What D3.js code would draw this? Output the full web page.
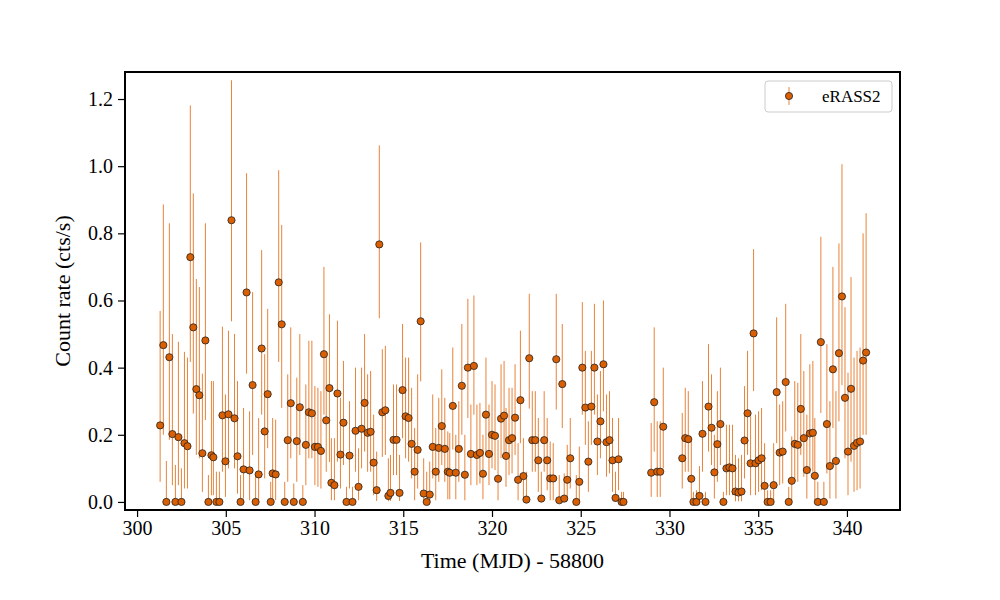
<!DOCTYPE html>
<html><head><meta charset="utf-8">
<script src="https://cdn.jsdelivr.net/npm/d3@7"></script>
<style>body{margin:0;background:#fff}svg{font-family:"Liberation Serif","DejaVu Serif",serif}</style>
</head><body><svg id="c" width="1000" height="600"></svg>
<script>
const time=[301.30,301.48,301.65,301.82,301.99,302.16,302.33,302.50,302.67,302.84,303.00,303.17,303.34,303.51,303.68,303.85,304.02,304.19,304.30,304.47,304.64,304.81,304.98,305.15,305.32,305.49,305.66,305.83,306.00,306.17,306.34,306.51,306.68,306.85,307.02,307.19,307.36,307.53,307.64,307.81,307.98,308.15,308.32,308.49,308.66,308.83,309.00,309.17,309.34,309.51,309.68,309.85,310.02,310.19,310.36,310.53,310.66,310.84,310.95,311.12,311.29,311.46,311.63,311.80,311.97,312.14,312.31,312.48,312.65,312.82,312.99,313.16,313.33,313.50,313.65,313.82,313.99,314.16,314.28,314.45,314.62,314.79,314.96,315.13,315.30,315.47,315.64,315.81,315.98,316.15,316.32,316.49,316.66,316.83,317.00,317.17,317.34,317.51,317.62,317.79,317.96,318.13,318.30,318.47,318.64,318.81,318.98,319.15,319.32,319.49,319.66,319.83,320.00,320.17,320.34,320.51,320.68,320.79,320.96,321.13,321.30,321.47,321.60,321.77,321.94,322.10,322.27,322.44,322.61,322.78,322.94,323.11,323.28,323.45,323.62,323.79,323.96,324.07,324.24,324.41,324.75,324.92,325.09,325.26,325.43,325.60,325.77,325.94,326.11,326.28,326.45,326.62,326.79,326.96,327.13,327.30,327.41,328.97,329.14,329.31,329.48,329.65,330.72,330.89,331.06,331.23,331.35,331.52,331.69,331.86,332.03,332.20,332.37,332.53,332.70,332.87,333.04,333.21,333.38,333.55,333.72,333.89,334.06,334.23,334.40,334.57,334.74,334.85,335.02,335.19,335.36,335.53,335.70,335.87,336.04,336.21,336.38,336.55,336.72,336.89,337.06,337.23,337.40,337.57,337.74,337.91,338.08,338.19,338.36,338.53,338.70,338.87,339.04,339.21,339.38,339.55,339.72,339.89,340.06,340.23,340.40,340.57,340.74,340.91,341.08];
const rate=[0.228,0.467,0,0.431,0.202,0,0.193,0,0.175,0.166,0.729,0.520,0.336,0.318,0.145,0.481,0,0.139,0.133,0,0,0.258,0.121,0.261,0.839,0.249,0.136,0,0.097,0.624,0.094,0.348,0,0.082,0.457,0.210,0.321,0,0.085,0.082,0.654,0.529,0,0.184,0.294,0,0.181,0.282,0,0.170,0.267,0.264,0.164,0.164,0.152,0.440,0.243,0.339,0.057,0.050,0.323,0.141,0.236,0,0.138,0,0.212,0.045,0.218,0.295,0.206,0.209,0.117,0.035,0.767,0.267,0.273,0.018,0.027,0.185,0.185,0.027,0.333,0.255,0.250,0.173,0.090,0.155,0.538,0.025,0,0.022,0.164,0.090,0.161,0.226,0.158,0.090,0.087,0.286,0.087,0.158,0.346,0.081,0.400,0.143,0.405,0.140,0.146,0.084,0.260,0.143,0.200,0.197,0.069,0.248,0.257,0.137,0.184,0.190,0.251,0.066,0.303,0.077,0.007,0.428,0.184,0.184,0.124,0.010,0.184,0.124,0.070,0.070,0.425,0.005,0.351,0.010,0.066,0.130,0,0.060,0.400,0.281,0.120,0.284,0.400,0.180,0.240,0.410,0.178,0.184,0.124,0.012,0.127,0,0,0.087,0.297,0.090,0.090,0.224,0.130,0.190,0.187,0.069,0,0,0.018,0.203,0,0.284,0.221,0.088,0.172,0.232,0,0.100,0.103,0.100,0.031,0.028,0.031,0.183,0.264,0.115,0.502,0.115,0.124,0.130,0.048,0,0,0.050,0.327,0.147,0.150,0.357,0,0.063,0.173,0.170,0.277,0.190,0.095,0.204,0.206,0.078,0,0.476,0,0.232,0.107,0.395,0.122,0.443,0.612,0.310,0.150,0.337,0.167,0.176,0.180,0.421,0.445];
const upper=[0.569,0.886,0.122,0.830,0.500,0.110,0.477,0.100,0.447,0.430,1.181,0.919,0.664,0.640,0.382,0.830,0.080,0.360,0.360,0.090,0.090,0.522,0.320,0.510,1.256,0.500,0.360,0.080,0.280,0.979,0.270,0.625,0.080,0.250,0.750,0.440,0.575,0.060,0.250,0.245,0.988,0.825,0.060,0.380,0.520,0.055,0.370,0.500,0.050,0.350,0.480,0.480,0.345,0.340,0.330,0.700,0.440,0.559,0.190,0.190,0.540,0.310,0.420,0.045,0.300,0.045,0.400,0.160,0.400,0.500,0.380,0.390,0.260,0.150,1.062,0.455,0.465,0.130,0.140,0.350,0.350,0.140,0.530,0.430,0.430,0.340,0.220,0.380,0.773,0.130,0.090,0.120,0.320,0.220,0.310,0.395,0.310,0.210,0.205,0.460,0.200,0.300,0.530,0.200,0.605,0.290,0.615,0.290,0.295,0.200,0.430,0.290,0.360,0.350,0.185,0.410,0.420,0.280,0.340,0.340,0.410,0.175,0.510,0.190,0.090,0.620,0.330,0.330,0.250,0.090,0.330,0.250,0.180,0.175,0.620,0.080,0.530,0.085,0.170,0.250,0.080,0.165,0.595,0.450,0.240,0.450,0.590,0.320,0.390,0.600,0.320,0.330,0.250,0.090,0.250,0.030,0.030,0.235,0.520,0.240,0.240,0.400,0.265,0.340,0.330,0.190,0.030,0.035,0.107,0.360,0.030,0.470,0.380,0.200,0.330,0.400,0.030,0.230,0.230,0.230,0.140,0.130,0.140,0.345,0.450,0.255,0.753,0.260,0.270,0.280,0.175,0.035,0.035,0.175,0.550,0.290,0.300,0.590,0.045,0.195,0.360,0.355,0.500,0.390,0.260,0.410,0.420,0.250,0.060,0.790,0.060,0.470,0.300,0.700,0.330,0.770,1.006,0.580,0.385,0.670,0.430,0.450,0.460,0.800,0.860];
const lower=[0.060,0.200,0,0.185,0.050,0,0.050,0,0.040,0.040,0.417,0.263,0.140,0.130,0.030,0.244,0,0.020,0.020,0,0,0.090,0.015,0.100,0.538,0.100,0.025,0,0.010,0.382,0.005,0.140,0,0.005,0.260,0.070,0.160,0,0.005,0.005,0.417,0.280,0,0.060,0.130,0,0.060,0.140,0,0.050,0.130,0.130,0.050,0.045,0.040,0.260,0.090,0.119,0.005,0.005,0.120,0.040,0.110,0,0.040,0,0.090,0.005,0.100,0.150,0.090,0.090,0.020,0.003,0.547,0.134,0.140,0.002,0.003,0.080,0.080,0.003,0.190,0.130,0.120,0.070,0.005,0.040,0.359,0.002,0,0.002,0.070,0.005,0.060,0.110,0.060,0.008,0.008,0.156,0.008,0.060,0.200,0.005,0.250,0.050,0.260,0.050,0.055,0.008,0.140,0.050,0.100,0.095,0.005,0.130,0.140,0.045,0.080,0.085,0.140,0.005,0.175,0.010,0,0.278,0.090,0.090,0.030,0,0.090,0.035,0.005,0.005,0.275,0,0.220,0,0.005,0.040,0,0.003,0.260,0.170,0.030,0.170,0.260,0.080,0.130,0.270,0.075,0.085,0.030,0,0.035,0,0,0.015,0.150,0.015,0.015,0.100,0.040,0.090,0.090,0.005,0,0,0.002,0.090,0,0.150,0.110,0.010,0.060,0.110,0,0.020,0.020,0.020,0.002,0.002,0.002,0.070,0.140,0.020,0.330,0.020,0.030,0.035,0.003,0,0,0.003,0.175,0.050,0.055,0.210,0,0.005,0.060,0.060,0.140,0.075,0.010,0.085,0.090,0.005,0,0.265,0,0.085,0.010,0.220,0.010,0.240,0.348,0.130,0.020,0.120,0.030,0.035,0.040,0.200,0.200];
const xTicks=[300,305,310,315,320,325,330,335,340];
const yTicks=[0.0,0.2,0.4,0.6,0.8,1.0,1.2];
const seriesName="eRASS2";

const svg=d3.select("#c");
const L=125,R=900,T=72,B=510;
const x=d3.scaleLinear().domain([299.32,342.99]).range([L,R]);
const y=d3.scaleLinear().domain([-0.024,1.2805]).range([B,T]);
const data=time.map((t,i)=>({t,r:rate[i],hi:upper[i],lo:lower[i]}));
const barC="#e8833a", fillC="#d95f02";

const g=svg.append("g");
g.selectAll("line.err").data(data).join("line").attr("class","err")
 .attr("x1",d=>x(d.t)).attr("x2",d=>x(d.t)).attr("y1",d=>y(d.lo)).attr("y2",d=>y(d.hi))
 .attr("stroke",barC).attr("stroke-width",1);
g.selectAll("circle").data(data).join("circle")
 .attr("cx",d=>x(d.t)).attr("cy",d=>y(d.r)).attr("r",3.6)
 .attr("fill",fillC).attr("stroke","#222").attr("stroke-width",0.8);

const xa=svg.append("g").attr("transform",`translate(0,${B})`)
 .call(d3.axisBottom(x).tickValues(xTicks).tickFormat(d3.format("d")).tickSizeOuter(0).tickSize(7).tickPadding(4));
const ya=svg.append("g").attr("transform",`translate(${L},0)`)
 .call(d3.axisLeft(y).tickValues(yTicks).tickFormat(d3.format(".1f")).tickSizeOuter(0).tickSize(7).tickPadding(5));
[xa,ya].forEach(a=>{a.select(".domain").remove();a.selectAll("text").attr("font-size",20).attr("font-family","Liberation Serif").attr("fill","#000");a.selectAll("line").attr("stroke","#000").attr("stroke-width",1.2);});
svg.append("rect").attr("x",L).attr("y",T).attr("width",R-L).attr("height",B-T).attr("fill","none").attr("stroke","#000").attr("stroke-width",2);

svg.append("text").attr("x",(L+R)/2).attr("y",568).attr("text-anchor","middle").attr("font-size",22).text("Time (MJD) - 58800");
svg.append("text").attr("transform",`translate(70,${(T+B)/2}) rotate(-90)`).attr("text-anchor","middle").attr("font-size",22).text("Count rate (cts/s)");

const lg=svg.append("g");
lg.append("rect").attr("x",765).attr("y",81).attr("width",127).attr("height",31).attr("rx",3).attr("fill","#fff").attr("stroke","#ccc");
lg.append("line").attr("x1",789).attr("x2",789).attr("y1",87).attr("y2",105).attr("stroke",barC);
lg.append("circle").attr("cx",789).attr("cy",96).attr("r",3.6).attr("fill",fillC).attr("stroke","#222").attr("stroke-width",0.8);
lg.append("text").attr("x",822).attr("y",102).attr("font-size",17).text(seriesName);
</script></body></html>
